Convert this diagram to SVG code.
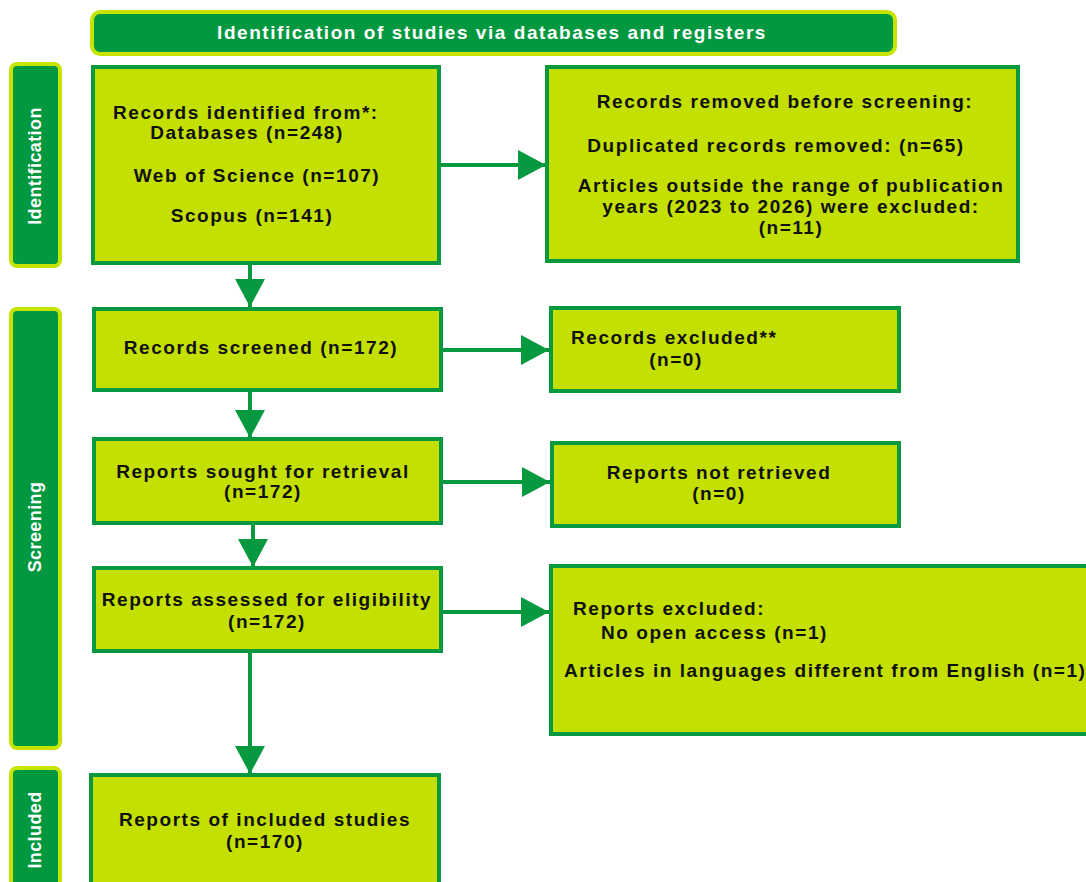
<svg xmlns="http://www.w3.org/2000/svg" width="1086" height="882" viewBox="0 0 1086 882">
<style>
.box{fill:#c3e000;stroke:#07993f;stroke-width:4}
.band{fill:#02983f;stroke:#c6e400;stroke-width:4}
.t{font-family:"Liberation Sans",Arial,sans-serif;font-weight:bold;font-size:19px;letter-spacing:1.55px;fill:#111}
.c{text-anchor:middle}
.w{font-family:"Liberation Sans",Arial,sans-serif;font-weight:bold;fill:#fff;text-anchor:middle;dominant-baseline:central}
.side{font-size:18px;letter-spacing:0.4px}
.ttl{font-size:19px;letter-spacing:1.55px}
.con{stroke:#07993f;stroke-width:4;fill:none;marker-end:url(#ah)}
</style>
<defs>
<marker id="ah" markerUnits="userSpaceOnUse" markerWidth="28" markerHeight="30" refX="28" refY="15" orient="auto">
<path d="M0,0 L28,15 L0,30 z" fill="#07993f"/>
</marker>
</defs>
<rect width="1086" height="882" fill="#fff"/>

<g id="title">
<rect class="band" x="92" y="12" width="803" height="42" rx="8"/>
<text class="w ttl" x="492" y="32">Identification of studies via databases and  registers</text>
</g>

<g id="side-identification">
<rect class="band" x="11" y="64" width="49" height="202" rx="6"/>
<text class="w side" transform="translate(35,166) rotate(-90)">Identification</text>
</g>
<g id="side-screening">
<rect class="band" x="11" y="309" width="49" height="439" rx="6"/>
<text class="w side" transform="translate(35,527) rotate(-90)">Screening</text>
</g>
<g id="side-included">
<rect class="band" x="11" y="768" width="49" height="130" rx="6"/>
<text class="w side" transform="translate(35,830) rotate(-90)">Included</text>
</g>

<g id="connectors">
<line class="con" x1="441" y1="165" x2="546" y2="165"/>
<line class="con" x1="250" y1="265" x2="250" y2="307"/>
<line class="con" x1="443" y1="350" x2="549" y2="350"/>
<line class="con" x1="250" y1="392" x2="250" y2="438"/>
<line class="con" x1="443" y1="482" x2="550" y2="482"/>
<line class="con" x1="253" y1="525" x2="253" y2="567"/>
<line class="con" x1="443" y1="612" x2="549" y2="612"/>
<line class="con" x1="250" y1="653" x2="250" y2="774"/>
</g>

<g id="records-identified">
<rect class="box" x="93" y="67" width="346" height="196"/>
<text class="t" x="113" y="119">Records identified from*:</text>
<text class="t c" x="247" y="139">Databases (n=248)</text>
<text class="t c" x="257" y="182">Web of Science (n=107)</text>
<text class="t c" x="252" y="222">Scopus (n=141)</text>
</g>

<g id="records-removed">
<rect class="box" x="547" y="67" width="471" height="194"/>
<text class="t c" x="785" y="108">Records removed before screening:</text>
<text class="t c" x="776" y="152">Duplicated records removed: (n=65)</text>
<text class="t c" x="791" y="192">Articles outside the range of publication</text>
<text class="t c" x="791" y="213">years (2023 to 2026) were excluded:</text>
<text class="t c" x="791" y="234">(n=11)</text>
</g>

<g id="records-screened">
<rect class="box" x="94" y="309" width="347" height="81"/>
<text class="t c" x="261" y="354">Records screened (n=172)</text>
</g>

<g id="records-excluded">
<rect class="box" x="551" y="308" width="348" height="83"/>
<text class="t" x="571" y="344">Records excluded**</text>
<text class="t c" x="676" y="366">(n=0)</text>
</g>

<g id="reports-sought">
<rect class="box" x="94" y="439" width="347" height="84"/>
<text class="t c" x="263" y="478">Reports sought for retrieval</text>
<text class="t c" x="263" y="498">(n=172)</text>
</g>

<g id="reports-not-retrieved">
<rect class="box" x="552" y="443" width="347" height="83"/>
<text class="t c" x="719" y="479">Reports not retrieved</text>
<text class="t c" x="719" y="500">(n=0)</text>
</g>

<g id="reports-assessed">
<rect class="box" x="94" y="568" width="347" height="83"/>
<text class="t c" x="267" y="606">Reports assessed for eligibility</text>
<text class="t c" x="267" y="628">(n=172)</text>
</g>

<g id="reports-excluded">
<rect class="box" x="551" y="566" width="545" height="168"/>
<text class="t" x="573" y="615">Reports excluded:</text>
<text class="t" x="601" y="639">No open access (n=1)</text>
<text class="t" x="564" y="677">Articles in languages different from English (n=1)</text>
</g>

<g id="reports-included">
<rect class="box" x="91" y="775" width="348" height="120"/>
<text class="t c" x="265" y="826">Reports of included studies</text>
<text class="t c" x="265" y="848">(n=170)</text>
</g>
</svg>
